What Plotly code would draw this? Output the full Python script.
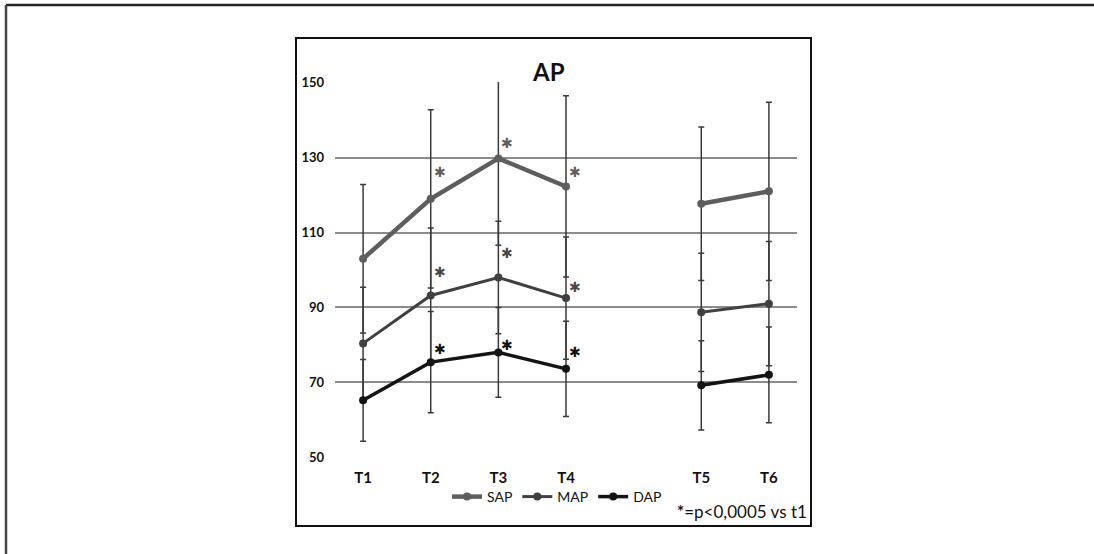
import plotly.graph_objects as go

categories = ["T1", "T2", "T3", "T4", " ", "T5", "T6"]
sap = [103, 119, 129.8, 122.3, None, 117.7, 121]
map_ = [80.4, 93.2, 98, 92.5, None, 88.7, 91]
dap = [65.2, 75.4, 78, 73.6, None, 69.2, 72]
sap_sd = [19.8, 23.8, 23.2, 24.2, None, 20.5, 23.8]
map_sd = [15, 18, 15, 16.3, None, 15.8, 16.6]
dap_sd = [10.9, 13.5, 12, 12.7, None, 11.9, 12.8]

# significance asterisk label positions (y values) for T2..T4
star_cats = ["T2", "T3", "T4"]
sap_star_y = [126.1, 133.8, 126.3]
map_star_y = [99.5, 104.5, 95.5]
dap_star_y = [79, 80, 78.2]

y_ticks = [50, 70, 90, 110, 130, 150]

FONT = "Lato, Open Sans, sans-serif"

series = [
    ("SAP", sap, sap_sd, "#5e5e5e", 4.5),
    ("MAP", map_, map_sd, "#404040", 3),
    ("DAP", dap, dap_sd, "#141414", 3.5),
]

fig = go.Figure()
for name, vals, sd, col, lw in series:
    fig.add_trace(go.Scatter(
        x=categories, y=vals, name=name, mode="lines+markers",
        line=dict(color=col, width=lw), marker=dict(color=col, size=8),
        connectgaps=False,
        error_y=dict(type="data", array=sd, visible=True, color="#3a3a3a",
                     thickness=1.5, width=3),
    ))

star_sets = [(sap_star_y, "#5e5e5e"), (map_star_y, "#484848"), (dap_star_y, "#111111")]
for ys, col in star_sets:
    for c, yv in zip(star_cats, ys):
        fig.add_annotation(x=c, y=yv, text="✱", showarrow=False, xshift=9,
                           xanchor="center", yanchor="middle",
                           font=dict(family="DejaVu Sans", size=14, color=col))

PW, PH = 462, 376
L, T = 335, 82


def px(xp):
    return (xp - L) / PW


def py(yp):
    return (T + PH - yp) / PH


fig.add_annotation(xref="paper", yref="paper", x=px(548), y=py(72),
                   xanchor="center", yanchor="middle",
                   text="<b>AP</b>", showarrow=False,
                   font=dict(family=FONT, size=24, color="#111"))
fig.add_annotation(xref="paper", yref="paper", x=px(742), y=py(511),
                   xanchor="center", yanchor="middle",
                   text="<b>*</b>=p&lt;0,0005 vs t1", showarrow=False,
                   font=dict(family=FONT, size=17, color="#111"))

# frames
fig.add_shape(type="rect", xref="paper", yref="paper",
              x0=px(296), x1=px(811), y0=py(526), y1=py(38),
              line=dict(color="#111", width=2), layer="below")
fig.add_shape(type="line", xref="paper", yref="paper",
              x0=px(6), x1=px(1110), y0=py(5), y1=py(5),
              line=dict(color="#222", width=2.5))
fig.add_shape(type="line", xref="paper", yref="paper",
              x0=px(6), x1=px(6), y0=py(5), y1=py(570),
              line=dict(color="#444", width=2.5))

fig.update_layout(
    width=1094, height=554,
    margin=dict(l=L, r=1094 - L - PW, t=T, b=554 - T - PH, autoexpand=False),
    paper_bgcolor="white", plot_bgcolor="white",
    font=dict(family=FONT, size=15, color="#111"),
    showlegend=True,
    legend=dict(orientation="h", x=px(557), y=py(497),
                xanchor="center", yanchor="middle", itemwidth=30,
                font=dict(family=FONT, size=14, color="#111"),
                tracegroupgap=0, bgcolor="rgba(0,0,0,0)"),
    xaxis=dict(type="category", categoryorder="array", categoryarray=categories,
               tickvals=categories, ticktext=["<b>%s</b>" % c for c in categories],
               showgrid=False, showline=False, zeroline=False, ticks="",
               tickfont=dict(family=FONT, size=15, color="#111"), ticklabelstandoff=9),
    yaxis=dict(range=[49.8, 150.2], tickvals=y_ticks,
               ticktext=["<b>%d</b>" % v for v in y_ticks],
               showgrid=True, gridcolor="#8c8c8c",
               gridwidth=1.5, zeroline=False, showline=False, ticks="",
               tickfont=dict(family=FONT, size=13, color="#111"), ticklabelstandoff=10),
)
fig.write_html("out.html", config={"displayModeBar": False},
               post_script="document.body.style.margin='0';")
